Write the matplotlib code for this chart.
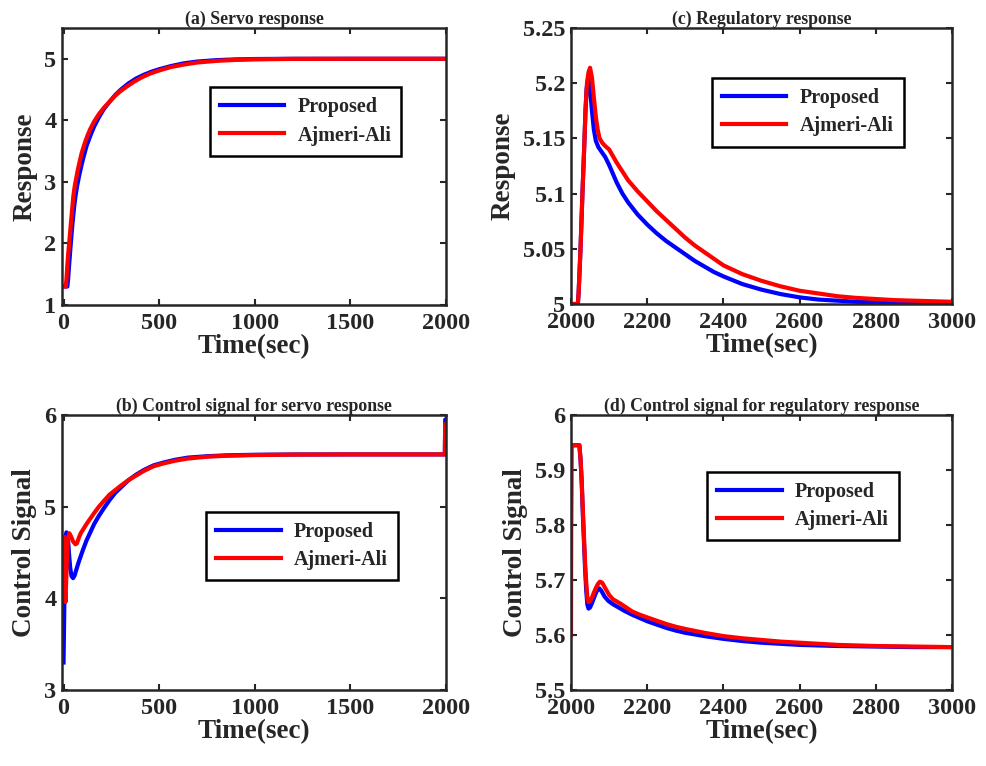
import matplotlib
matplotlib.use("Agg")
import matplotlib.pyplot as plt
from matplotlib.ticker import FuncFormatter

plt.rcParams['font.family'] = ['Liberation Serif', 'DejaVu Serif']
plt.rcParams['font.weight'] = 'bold'
plt.rcParams['axes.labelweight'] = 'bold'
plt.rcParams['axes.titleweight'] = 'bold'

# ---------------- data ----------------
# (a) servo response
t_a_prop = [0, 20, 24, 28, 33, 40, 47, 55, 63, 72, 85, 100, 120, 140, 160, 185, 210, 240, 270, 300,
            340, 380, 420, 460, 500, 560, 627, 700, 800, 900, 1000, 1200, 1500, 2000]
y_a_prop = [1.3, 1.3, 1.42, 1.6, 1.8, 2.08, 2.33, 2.58, 2.78, 2.95, 3.15, 3.35, 3.58, 3.75, 3.9, 4.05, 4.18, 4.3, 4.41, 4.5,
            4.6, 4.68, 4.74, 4.79, 4.83, 4.88, 4.925, 4.955, 4.978, 4.99, 4.996, 5.0, 5.0, 5.0]
t_a_aa = [0, 12, 16, 20, 25, 30, 35, 40, 45, 51, 58, 65, 75, 85, 95, 110, 125, 140, 160, 185, 210, 240, 270, 300,
          331, 370, 410, 453, 500, 560, 627, 700, 800, 900, 1000, 1200, 1500, 2000]
y_a_aa = [1.3, 1.3, 1.45, 1.65, 1.85, 2.02, 2.2, 2.38, 2.55, 2.76, 2.92, 3.04, 3.2, 3.34, 3.47, 3.62, 3.75, 3.86, 3.98, 4.1, 4.2, 4.3, 4.4, 4.48,
          4.55, 4.63, 4.7, 4.76, 4.81, 4.865, 4.905, 4.94, 4.966, 4.982, 4.991, 4.998, 5.0, 5.0]

# (b) control signal for servo response
t_b_prop = [0, 4, 8, 12, 15, 20, 25, 30, 35, 42, 50, 58, 68, 80, 100, 120, 140, 160, 185, 210, 240, 270, 300,
            340, 380, 420, 470, 520, 580, 650, 750, 850, 1000, 1200, 1500, 1994, 1996, 2000]
y_b_prop = [3.3, 3.9, 4.4, 4.68, 4.72, 4.7, 4.6, 4.45, 4.33, 4.24, 4.22, 4.25, 4.32, 4.4, 4.52, 4.63, 4.72, 4.81, 4.9, 4.98, 5.07, 5.15, 5.21,
            5.29, 5.35, 5.4, 5.45, 5.48, 5.51, 5.535, 5.55, 5.56, 5.566, 5.569, 5.57, 5.57, 5.95, 5.95]
t_b_aa = [0, 3, 6, 10, 14, 18, 23, 30, 38, 50, 62, 70, 80, 90, 105, 120, 140, 160, 185, 210, 240, 270, 300,
          340, 380, 420, 470, 520, 580, 650, 750, 850, 1000, 1200, 1500, 1994, 1996, 2000]
y_b_aa = [4.67, 4.45, 4.15, 3.96, 4.2, 4.45, 4.65, 4.71, 4.68, 4.62, 4.59, 4.6, 4.66, 4.71, 4.76, 4.81, 4.87, 4.93, 5.0, 5.06, 5.13, 5.18, 5.23,
          5.29, 5.34, 5.39, 5.44, 5.47, 5.5, 5.525, 5.545, 5.555, 5.563, 5.568, 5.57, 5.57, 5.9, 5.9]

# (c) regulatory response
t_c_prop = [2000, 2018, 2020, 2025, 2030, 2035, 2038, 2041, 2045, 2050, 2055, 2060, 2065, 2072, 2080, 2090, 2100, 2110, 2120,
            2135, 2150, 2175, 2200, 2225, 2250, 2275, 2300, 2325, 2350, 2375, 2400, 2450, 2500, 2550, 2600, 2650, 2700,
            2750, 2800, 2900, 3000]
y_c_prop = [5.0, 5.0, 5.01, 5.05, 5.1, 5.145, 5.175, 5.195, 5.205, 5.195, 5.175, 5.158, 5.148, 5.142, 5.138, 5.133, 5.126, 5.118, 5.11,
            5.1, 5.092, 5.081, 5.072, 5.064, 5.057, 5.051, 5.045, 5.039, 5.034, 5.029, 5.025, 5.018, 5.013, 5.009, 5.006, 5.004, 5.003,
            5.002, 5.0015, 5.0007, 5.0003]
t_c_aa = [2000, 2018, 2020, 2025, 2030, 2035, 2038, 2042, 2046, 2050, 2055, 2060, 2065, 2070, 2075, 2082, 2090, 2100, 2110, 2120,
          2135, 2150, 2175, 2200, 2225, 2250, 2275, 2300, 2325, 2350, 2375, 2400, 2450, 2500, 2550, 2600, 2650, 2700,
          2750, 2800, 2850, 2900, 2950, 3000]
y_c_aa = [5.0, 5.0, 5.01, 5.05, 5.1, 5.145, 5.175, 5.2, 5.21, 5.214, 5.205, 5.187, 5.17, 5.158, 5.15, 5.146, 5.143, 5.14, 5.134, 5.128,
          5.12, 5.112, 5.102, 5.093, 5.084, 5.076, 5.068, 5.06, 5.053, 5.047, 5.041, 5.035, 5.027, 5.021, 5.016, 5.012, 5.0095, 5.007,
          5.0055, 5.0045, 5.0035, 5.003, 5.0025, 5.002]

# (d) control signal for regulatory response
t_d_prop = [2000, 2001, 2022, 2025, 2028, 2031, 2034, 2037, 2040, 2043, 2046, 2050, 2055, 2060, 2065, 2070, 2074, 2080, 2088, 2098,
            2110, 2125, 2140, 2160, 2180, 2200, 2225, 2250, 2275, 2300, 2350, 2400, 2450, 2500, 2550, 2600, 2700, 2800, 2900, 3000]
y_d_prop = [5.8, 5.945, 5.945, 5.92, 5.88, 5.82, 5.77, 5.72, 5.68, 5.655, 5.648, 5.65, 5.658, 5.667, 5.676, 5.683, 5.685, 5.68, 5.67, 5.662,
            5.656, 5.65, 5.644, 5.637, 5.631, 5.625, 5.619, 5.613, 5.608, 5.604, 5.598, 5.593, 5.589, 5.586, 5.584, 5.582, 5.58, 5.579, 5.578, 5.578]
t_d_aa = [2000, 2001, 2022, 2025, 2028, 2031, 2034, 2037, 2040, 2043, 2046, 2050, 2055, 2060, 2065, 2070, 2076, 2082, 2090, 2100,
          2110, 2120, 2130, 2145, 2160, 2180, 2200, 2225, 2250, 2275, 2300, 2350, 2400, 2450, 2500, 2550, 2600, 2650, 2700,
          2750, 2800, 2900, 3000]
y_d_aa = [5.6, 5.945, 5.945, 5.92, 5.88, 5.83, 5.78, 5.73, 5.695, 5.668, 5.66, 5.662, 5.668, 5.677, 5.685, 5.692, 5.697, 5.695, 5.685, 5.673,
          5.665, 5.661, 5.657, 5.65, 5.643, 5.637, 5.632, 5.626, 5.62, 5.615, 5.611, 5.604, 5.598, 5.594, 5.591, 5.588, 5.586, 5.584, 5.582,
          5.581, 5.58, 5.579, 5.578]

labels = ['Proposed', 'Ajmeri-Ali']
titles = ['(a) Servo response', '(b) Control signal for servo response',
          '(c) Regulatory response', '(d) Control signal for regulatory response']
ylabels = ['Response', 'Control Signal', 'Response', 'Control Signal']

# ---------------- figure ----------------
fig = plt.figure(figsize=(9.87, 7.66), dpi=100)
W, H = 987, 766

def add_ax(l, r, t, b):
    return fig.add_axes([l / W, 1 - b / H, (r - l) / W, (b - t) / H])

axA = add_ax(62, 446, 28, 305)
axB = add_ax(62, 446, 415, 690)
axC = add_ax(571, 952, 28, 304)
axD = add_ax(571, 952, 415, 690)

tc = '#262626'
blue = '#0000FF'
red = '#FF0000'
lw = 3.0

fmt = FuncFormatter(lambda v, p: ('%g' % round(v, 6)))

panels = [
    (axA, t_a_prop, y_a_prop, t_a_aa, y_a_aa, (-8, 2000), [0, 500, 1000, 1500, 2000], (1, 5.5), [1, 2, 3, 4, 5], (0.385, 0.787)),
    (axB, t_b_prop, y_b_prop, t_b_aa, y_b_aa, (-8, 2000), [0, 500, 1000, 1500, 2000], (3, 6), [3, 4, 5, 6], (0.375, 0.648)),
    (axC, t_c_prop, y_c_prop, t_c_aa, y_c_aa, (2000, 3000), [2000, 2200, 2400, 2600, 2800, 3000], (5, 5.25), [5, 5.05, 5.1, 5.15, 5.2, 5.25], (0.37, 0.819)),
    (axD, t_d_prop, y_d_prop, t_d_aa, y_d_aa, (2000, 3000), [2000, 2200, 2400, 2600, 2800, 3000], (5.5, 6), [5.5, 5.6, 5.7, 5.8, 5.9, 6], (0.358, 0.794)),
]

for i, (ax, tp, yp, ta, ya, xl, xt, yl, yt, lpos) in enumerate(panels):
    ax.plot(tp, yp, color=blue, lw=lw, label=labels[0], solid_joinstyle='round')
    ax.plot(ta, ya, color=red, lw=lw, label=labels[1], solid_joinstyle='round')
    ax.set_xlim(*xl)
    ax.set_ylim(*yl)
    ax.set_xticks(xt)
    ax.set_yticks(yt)
    ax.yaxis.set_major_formatter(fmt)
    ax.tick_params(direction='in', top=True, right=True, length=4, width=1.5,
                   labelsize=17.5, colors=tc)
    ax.tick_params(axis='x', pad=5.5)
    ax.tick_params(axis='y', pad=4)
    for lab in ax.get_xticklabels() + ax.get_yticklabels():
        lab.set_fontweight('bold')
    for s in ax.spines.values():
        s.set_linewidth(1.8)
        s.set_color(tc)
    ax.set_xlabel('Time(sec)', fontsize=19.5, fontweight='bold', color=tc, labelpad=0)
    ax.set_ylabel(ylabels[i], fontsize=19.5, fontweight='bold', color=tc, labelpad=5)
    ax.set_title(titles[i], fontsize=12.8, fontweight='bold', color=tc, pad=3)
    leg = ax.legend(loc='upper left', bbox_to_anchor=lpos, borderaxespad=0,
                    fancybox=False, edgecolor='black', framealpha=1,
                    prop={'weight': 'bold', 'size': 14.5}, handlelength=3.2,
                    handletextpad=0.65, borderpad=0.5, labelspacing=0.42)
    leg.get_frame().set_linewidth(1.8)
    for t in leg.get_texts():
        t.set_color(tc)

fig.savefig('out.png', dpi=100)
